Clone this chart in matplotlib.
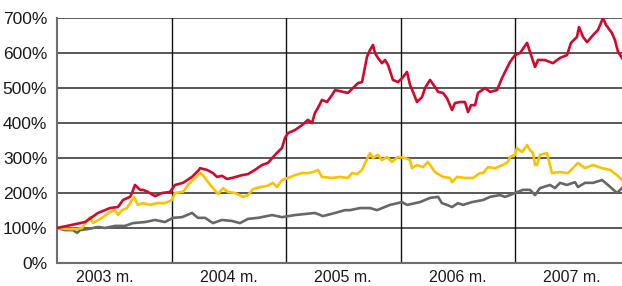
import matplotlib
matplotlib.use('Agg')
import matplotlib.pyplot as plt
from matplotlib.ticker import FuncFormatter

plt.rcParams['font.family'] = ['Liberation Sans Narrow', 'Liberation Sans', 'DejaVu Sans']

# years since start of 2003 and index values (%)
red_t = [0.000, 0.131, 0.245, 0.358, 0.463, 0.533, 0.576, 0.638, 0.655, 0.681, 0.725, 0.751,
         0.795, 0.856, 0.917, 0.987, 1.031, 1.100, 1.179, 1.240, 1.249, 1.310, 1.362, 1.397,
         1.441, 1.485, 1.528, 1.616, 1.668, 1.729, 1.790, 1.843, 1.904, 1.965, 1.991, 2.017,
         2.079, 2.140, 2.192, 2.227, 2.253, 2.279, 2.314, 2.358, 2.402, 2.428, 2.472, 2.541,
         2.585, 2.629, 2.664, 2.690, 2.707, 2.734, 2.760, 2.777, 2.803, 2.838, 2.865, 2.891,
         2.934, 2.978, 3.013, 3.057, 3.083, 3.109, 3.144, 3.188, 3.214, 3.258, 3.301, 3.328,
         3.371, 3.406, 3.450, 3.476, 3.520, 3.563, 3.590, 3.616, 3.651, 3.677, 3.712, 3.738,
         3.782, 3.843, 3.886, 3.913, 3.956, 4.000, 4.044, 4.105, 4.131, 4.175, 4.201, 4.262,
         4.306, 4.332, 4.393, 4.454, 4.489, 4.541, 4.559, 4.594, 4.629, 4.681, 4.725, 4.769,
         4.795, 4.847, 4.873, 4.900, 4.934]
red_v = [100, 109, 117, 143, 157, 160, 180, 189, 200, 223, 209, 209,
         203, 191, 200, 203, 223, 229, 246, 266, 271, 266, 257, 246,
         249, 240, 243, 251, 254, 266, 280, 286, 309, 329, 357, 371,
         380, 394, 409, 400, 429, 443, 466, 460, 480, 494, 491, 486,
         500, 514, 517, 560, 589, 609, 623, 600, 586, 571, 580, 566,
         523, 517, 528, 546, 509, 489, 460, 474, 500, 523, 503, 489,
         486, 471, 437, 457, 460, 460, 431, 451, 451, 486, 494, 500,
         489, 494, 528, 546, 574, 594, 600, 629, 603, 560, 580, 580,
         574, 571, 586, 594, 629, 646, 674, 646, 631, 651, 666, 700,
         680, 657, 637, 603, 586]

yellow_t = [0.000, 0.096, 0.175, 0.218, 0.288, 0.314, 0.393, 0.463, 0.507, 0.533, 0.568, 0.611,
            0.638, 0.672, 0.707, 0.751, 0.812, 0.873, 0.943, 1.004, 1.031, 1.100, 1.144, 1.205,
            1.249, 1.275, 1.319, 1.362, 1.406, 1.450, 1.493, 1.555, 1.624, 1.668, 1.712, 1.773,
            1.834, 1.886, 1.921, 1.965, 2.017, 2.079, 2.140, 2.192, 2.236, 2.279, 2.314, 2.402,
            2.472, 2.541, 2.576, 2.620, 2.664, 2.690, 2.734, 2.760, 2.803, 2.838, 2.882, 2.926,
            2.978, 3.039, 3.083, 3.100, 3.144, 3.197, 3.240, 3.301, 3.371, 3.432, 3.450, 3.493,
            3.563, 3.633, 3.694, 3.721, 3.764, 3.825, 3.895, 3.939, 3.956, 4.000, 4.017, 4.061,
            4.105, 4.131, 4.157, 4.175, 4.192, 4.218, 4.279, 4.323, 4.393, 4.463, 4.550, 4.611,
            4.681, 4.760, 4.830, 4.891, 4.934]
yellow_v = [100, 97, 97, 100, 131, 114, 129, 146, 151, 137, 151, 157,
            171, 189, 166, 171, 166, 171, 171, 180, 200, 203, 223, 243,
            257, 251, 231, 214, 197, 214, 203, 200, 189, 194, 211, 217,
            220, 229, 217, 237, 243, 251, 257, 257, 260, 266, 246, 243,
            246, 243, 257, 254, 266, 286, 314, 300, 309, 294, 303, 289,
            303, 300, 294, 271, 280, 274, 289, 260, 246, 243, 231, 246,
            243, 243, 257, 257, 274, 271, 280, 289, 303, 309, 329, 317,
            337, 323, 314, 280, 280, 309, 314, 257, 260, 257, 286, 271,
            280, 271, 266, 251, 237]

gray_t = [0.000, 0.070, 0.140, 0.175, 0.201, 0.271, 0.358, 0.419, 0.507, 0.594, 0.664, 0.769,
          0.856, 0.943, 1.013, 1.092, 1.179, 1.231, 1.293, 1.362, 1.441, 1.528, 1.598, 1.668,
          1.755, 1.878, 1.965, 2.079, 2.166, 2.253, 2.323, 2.428, 2.515, 2.559, 2.646, 2.734,
          2.795, 2.908, 3.013, 3.057, 3.170, 3.258, 3.328, 3.362, 3.406, 3.450, 3.502, 3.546,
          3.624, 3.721, 3.782, 3.869, 3.913, 3.956, 4.000, 4.070, 4.131, 4.175, 4.218, 4.306,
          4.349, 4.393, 4.454, 4.524, 4.550, 4.611, 4.681, 4.760, 4.812, 4.891, 4.934]
gray_v = [100, 94, 94, 86, 94, 97, 103, 100, 106, 106, 114, 117,
          123, 117, 129, 131, 143, 129, 129, 114, 123, 120, 114, 126,
          129, 137, 131, 137, 140, 143, 134, 143, 151, 151, 157, 157,
          151, 166, 174, 166, 174, 186, 189, 171, 166, 160, 171, 166,
          174, 180, 189, 194, 189, 194, 200, 209, 209, 194, 214, 223,
          214, 229, 223, 231, 217, 229, 229, 237, 223, 200, 214]

years = [2003, 2004, 2005, 2006, 2007]
year_labels = ['2003 m.', '2004 m.', '2005 m.', '2006 m.', '2007 m.']
label_pos = [2003.42, 2004.5, 2005.5, 2006.5, 2007.5]
y_ticks = [0, 100, 200, 300, 400, 500, 600, 700]


def main():
    fig = plt.figure(figsize=(6.22, 2.86), dpi=100)
    ax = fig.add_axes([57 / 622, 23 / 286, 1 - 57 / 622, 245 / 286])

    for y in y_ticks[1:]:
        ax.axhline(y, color='#3c3c3c', lw=1.2, zorder=1)
    for yr in years[1:]:
        ax.axvline(yr, color='#111111', lw=1.0, zorder=1)

    ax.plot([2003 + t for t in gray_t], gray_v, color='#676767', lw=1.9, zorder=3)
    ax.plot([2003 + t for t in yellow_t], yellow_v, color='#fcc200', lw=1.9, zorder=4)
    ax.plot([2003 + t for t in red_t], red_v, color='#d4082a', lw=1.9, zorder=5)

    ax.set_xlim(2003, 2003 + 565 / 114.5)
    ax.set_ylim(0, 700)
    ax.set_yticks(y_ticks)
    ax.yaxis.set_major_formatter(FuncFormatter(lambda v, p: f'{v:.0f}%'))
    ax.set_xticks(label_pos)
    ax.set_xticklabels(year_labels)
    ax.tick_params(axis='y', length=0, pad=7, labelsize=12.5, labelcolor='#1a1a1a')
    ax.tick_params(axis='x', length=0, pad=5, labelsize=11.5, labelcolor='#1a1a1a')

    for s in ['top', 'right']:
        ax.spines[s].set_visible(False)
    ax.spines['left'].set_color('#6e6e6e')
    ax.spines['left'].set_linewidth(1.5)
    ax.spines['bottom'].set_color('#6e6e6e')
    ax.spines['bottom'].set_linewidth(1.5)

    fig.savefig('out.png', dpi=100)
    plt.close(fig)


if __name__ == '__main__':
    main()
